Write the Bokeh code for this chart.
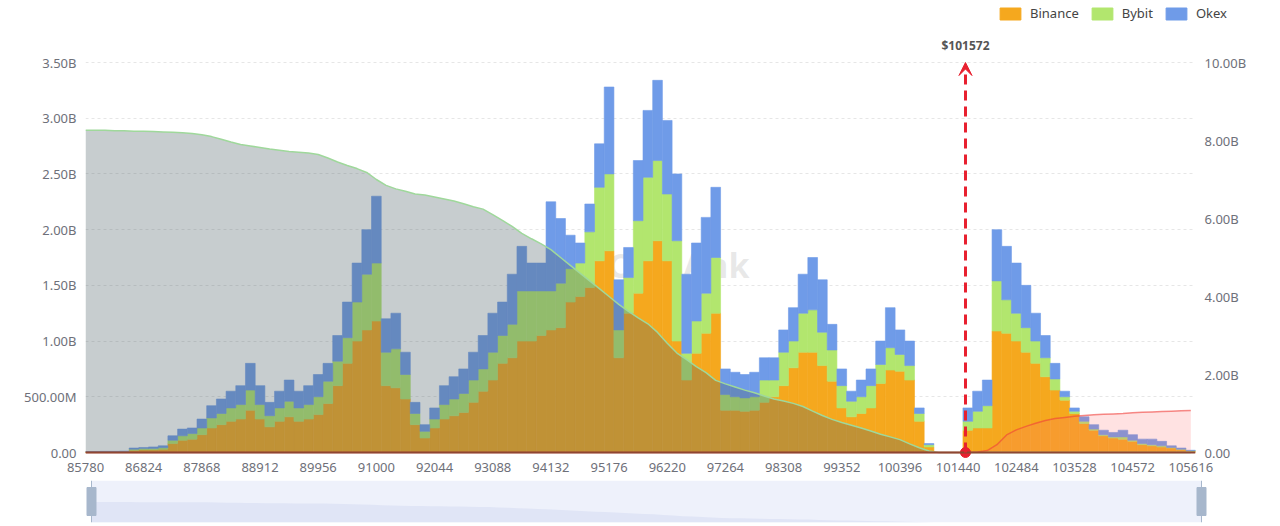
from bokeh.plotting import figure
from bokeh.models import (Range1d, LinearAxis, FixedTicker, Legend, LegendItem, Label,
                          Arrow, VeeHead, ColumnDataSource, Span)
from bokeh.layouts import column
from bokeh.embed import file_html
from bokeh.resources import INLINE

# ---------------- data ----------------
bin_width = 174
price_bins = list(range(85780, 105617, bin_width))   # 115 price levels

# liquidation leverage per price level, in billions (left axis)
binance = [
    .004, .004, .005, .005, .006, .02, .025, .025, .03, .08,
    .11, .12, .16, .22, .25, .28, .3, .38, .3, .23,
    .28, .32, .28, .3, .34, .44, .6, .8, 1.0, 1.1,
    1.18, .6, .58, .48, .25, .13, .22, .3, .33, .36,
    .45, .55, .65, .8, .85, 1.0, 1.0, 1.05, 1.1, 1.12,
    1.35, 1.4, 1.48, 1.72, 1.81, .85, 1.25, 1.43, 1.72, 1.9,
    1.72, 1.0, .65, .89, 1.07, 1.25, .38, .38, .37, .38,
    .45, .5, .6, .76, .9, .9, .78, .64, .4, .32,
    .35, .4, .62, .74, .73, .65, .28, .05, 0, 0,
    0, .2, .22, .22, 1.09, 1.07, 1.0, .9, .8, .68,
    .56, .47, .35, .26, .2, .15, .13, .12, .1, .07,
    .06, .05, .04, .025, .012,
]
bybit = [
    .002, .002, .002, .002, .002, .01, .01, .012, .013, .03,
    .04, .05, .06, .09, .1, .12, .13, .18, .13, .1,
    .12, .14, .12, .13, .16, .2, .22, .23, .35, .5,
    .52, .3, .35, .22, .1, .06, .08, .13, .15, .17,
    .2, .2, .25, .25, .3, .45, .45, .4, .35, .4,
    .3, .3, .5, .66, .69, .25, .32, .65, .75, .72,
    .6, .9, .24, .29, .36, .5, .14, .12, .12, .12,
    .2, .15, .3, .24, .35, .38, .3, .28, .2, .14,
    .15, .2, .17, .2, .15, .13, .07, .02, 0, 0,
    0, .08, .15, .2, .45, .3, .25, .22, .2, .17,
    .1, .03, .02, .02, .01, .01, .01, .02, .01, .01,
    .01, .01, .005, .005, .003,
]
okex = [
    .002, .002, .003, .003, .004, .01, .01, .013, .017, .04,
    .06, .05, .08, .11, .13, .15, .17, .24, .17, .12,
    .15, .19, .15, .17, .2, .16, .23, .32, .35, .4,
    .6, .3, .32, .2, .1, .06, .1, .17, .2, .22,
    .25, .3, .35, .3, .45, .4, .25, .25, .8, .58,
    .3, .18, .25, .39, .78, .45, .27, .54, .6, .72,
    .66, .6, .71, .7, .68, .63, .23, .22, .21, .22,
    .2, .2, .2, .3, .35, .47, .47, .23, .15, .09,
    .15, .15, .21, .36, .22, .22, .05, .01, 0, 0,
    0, .12, .18, .23, .46, .48, .45, .38, .25, .2,
    .14, .05, .03, .04, .04, .04, .04, .06, .05, .04,
    .05, .04, .015, .01, .005,
]
# cumulative liquidation, in billions (right axis)
short_cum = [
    8.26, 8.26, 8.26, 8.25, 8.25, 8.24, 8.24, 8.23, 8.22, 8.21,
    8.2, 8.18, 8.15, 8.1, 8.03, 7.96, 7.9, 7.86, 7.82, 7.78,
    7.75, 7.72, 7.7, 7.68, 7.64, 7.55, 7.45, 7.36, 7.28, 7.18,
    7.0, 6.85, 6.76, 6.7, 6.63, 6.6, 6.55, 6.5, 6.45, 6.38,
    6.3, 6.24, 6.1, 5.95, 5.8, 5.62, 5.48, 5.35, 5.2, 5.0,
    4.8, 4.6, 4.4, 4.2, 4.0, 3.8, 3.62, 3.45, 3.3, 3.08,
    2.8, 2.55, 2.38, 2.2, 2.05, 1.85, 1.76, 1.68, 1.6, 1.53,
    1.45, 1.37, 1.32, 1.26, 1.18, 1.06, 0.95, 0.85, 0.77, 0.7,
    0.63, 0.55, 0.47, 0.4, 0.33, 0.22, 0.12, 0.04, 0, 0,
    0, 0, 0, 0, 0, 0, 0, 0, 0, 0,
    0, 0, 0, 0, 0, 0, 0, 0, 0, 0,
    0, 0, 0, 0, 0,
]
long_cum = [
    0, 0, 0, 0, 0, 0, 0, 0, 0, 0,
    0, 0, 0, 0, 0, 0, 0, 0, 0, 0,
    0, 0, 0, 0, 0, 0, 0, 0, 0, 0,
    0, 0, 0, 0, 0, 0, 0, 0, 0, 0,
    0, 0, 0, 0, 0, 0, 0, 0, 0, 0,
    0, 0, 0, 0, 0, 0, 0, 0, 0, 0,
    0, 0, 0, 0, 0, 0, 0, 0, 0, 0,
    0, 0, 0, 0, 0, 0, 0, 0, 0, 0,
    0, 0, 0, 0, 0, 0, 0, 0, 0, 0,
    0, 0, 0.01, 0.05, 0.2, 0.45, 0.58, 0.67, 0.75, 0.82,
    0.87, 0.9, 0.93, 0.95, 0.97, 0.98, 0.99, 1.0, 1.02, 1.03,
    1.04, 1.05, 1.06, 1.07, 1.08,
]
x_ticks = [85780, 86824, 87868, 88912, 89956, 91000, 92044, 93088, 94132, 95176,
           96220, 97264, 98308, 99352, 100396, 101440, 102484, 103528, 104572, 105616]
left_ticks = [0, 0.5, 1.0, 1.5, 2.0, 2.5, 3.0, 3.5]
left_labels = ["0.00", "500.00M", "1.00B", "1.50B", "2.00B", "2.50B", "3.00B", "3.50B"]
right_ticks = [0, 2, 4, 6, 8, 10]
right_labels = ["0.00", "2.00B", "4.00B", "6.00B", "8.00B", "10.00B"]
current_price = 101572
series_names = ["Binance", "Bybit", "Okex"]

for s in (binance, bybit, okex, short_cum, long_cum):
    assert len(s) == len(price_bins), len(s)

# ---------------- style ----------------
FONT = "Noto Sans"
COLORS = ["#F5A81E", "#B2E66E", "#6F9BE8"]
RED = "#E8202F"
LABEL_C = "#6E7079"

x_start, x_end = 85780, 105700
left_top, right_top = 3.5, 10
# pixel layout of the value area: 390 px from 0 to top tick, headroom above, 6 px below zero
core_px, head_px, below_px = 390, 36, 6
left_range = Range1d(-left_top * below_px / core_px, left_top * (core_px + head_px) / core_px)
right_range = Range1d(-right_top * below_px / core_px, right_top * (core_px + head_px) / core_px)

src = ColumnDataSource(dict(price=price_bins, binance=binance, bybit=bybit, okex=okex,
                            short_cum=short_cum, long_cum=long_cum))

# ---------------- legend strip (top) ----------------
top = figure(frame_width=1280, frame_height=26, x_range=Range1d(0, 1), y_range=Range1d(0, 1),
             min_border=0, x_axis_type=None, y_axis_type=None,
             output_backend="svg", toolbar_location=None)
top.outline_line_color = None
top.grid.grid_line_color = None
# zero-size proxy glyphs that only carry the legend swatch styles
legend_renderers = [top.vbar(x=[0], top=[0], bottom=[0], width=0, fill_color=c, line_color=c)
                    for c in COLORS]
legend = Legend(items=[LegendItem(label=n, renderers=[r]) for n, r in zip(series_names, legend_renderers)],
                orientation="horizontal", location=(997, 4), padding=0, margin=0,
                spacing=10, glyph_width=26, glyph_height=15, label_standoff=7,
                label_height=15, border_line_color=None, background_fill_alpha=0,
                label_text_font=FONT, label_text_font_size="13px", label_text_color="#444444")
top.add_layout(legend)

# ---------------- main chart ----------------
p = figure(frame_width=1110, frame_height=core_px + head_px + below_px,
           x_range=Range1d(x_start, x_end), y_range=left_range,
           min_border_left=85, min_border_right=85, min_border_top=0, min_border_bottom=20,
           output_backend="svg", toolbar_location=None)
p.outline_line_color = None
p.background_fill_color = "white"
p.xgrid.grid_line_color = None
p.ygrid.grid_line_color = "#E6E6E6"
p.ygrid.grid_line_dash = "3 3"
p.ygrid.ticker = FixedTicker(ticks=left_ticks)

p.extra_y_ranges = {"cum": right_range}

# stacked bars
bars = p.vbar_stack(["binance", "bybit", "okex"], x="price", width=bin_width, source=src,
                    fill_color=COLORS, line_color=COLORS, line_width=0.6)

# cumulative areas (right axis)
p.varea(x="price", y1=0, y2="short_cum", source=src, y_range_name="cum",
        fill_color=(80, 100, 105), fill_alpha=0.32)
p.varea(x="price", y1=0, y2="long_cum", source=src, y_range_name="cum",
        fill_color="#FF7070", fill_alpha=0.2)
p.line(x="price", y="short_cum", source=src, y_range_name="cum",
       line_color="#9FD89B", line_width=1.5)
p.line(x="price", y="long_cum", source=src, y_range_name="cum",
       line_color="#F0403A", line_alpha=0.6, line_width=1.5)

# baseline
p.add_layout(Span(location=0, dimension="width", line_color="#8E4632", line_width=2))

# current price marker
p.add_layout(Arrow(end=VeeHead(size=13, fill_color=RED, line_color=RED),
                   x_start=current_price, y_start=0, x_end=current_price, y_end=left_top,
                   line_color=RED, line_width=3, line_dash="10 6"))
p.scatter([current_price], [0], size=10, fill_color=RED, line_color=RED)
p.add_layout(Label(x=current_price, y=left_top, y_offset=17, text=f"${current_price}",
                   text_align="center", text_baseline="middle", text_font=FONT,
                   text_font_size="12px", text_font_style="bold", text_color="#555555"))

# watermark
p.add_layout(Label(x=96422, y=1.68, text="CoinAnk", text_align="center",
                   text_baseline="middle", text_font=FONT, text_font_size="34px",
                   text_font_style="bold", text_color="#999999", text_alpha=0.22,
                   level="underlay"))

# axes
p.xaxis.ticker = FixedTicker(ticks=x_ticks)
p.xaxis.major_label_overrides = {t: str(t) for t in x_ticks}
p.xaxis.axis_line_color = None
p.xaxis.major_tick_line_color = None
p.xaxis.minor_tick_line_color = None
p.xaxis.major_tick_out = 0
p.xaxis.major_label_standoff = 4
p.xaxis.major_label_text_font = FONT
p.xaxis.major_label_text_font_size = "13px"
p.xaxis.major_label_text_color = LABEL_C

yl = p.yaxis[0]
yl.ticker = FixedTicker(ticks=left_ticks)
yl.major_label_overrides = dict(zip(left_ticks, left_labels))
yr = LinearAxis(y_range_name="cum", ticker=FixedTicker(ticks=right_ticks),
                major_label_overrides=dict(zip(right_ticks, right_labels)))
p.add_layout(yr, "right")
for ax in (yl, yr):
    ax.axis_line_color = None
    ax.major_tick_line_color = None
    ax.minor_tick_line_color = None
    ax.major_tick_out = 0
    ax.major_tick_in = 0
    ax.major_label_standoff = 9
    ax.major_label_text_font = FONT
    ax.major_label_text_font_size = "13px"
    ax.major_label_text_color = LABEL_C

# ---------------- data-zoom slider strip ----------------
pad = 6 * (x_end - x_start) / 1110
p2 = figure(frame_width=1122, frame_height=42, x_range=Range1d(x_start - pad, x_end + pad),
            y_range=Range1d(0, 17), min_border_left=79, min_border_right=79,
            min_border_top=2, min_border_bottom=4, x_axis_type=None, y_axis_type=None,
            output_backend="svg", toolbar_location=None)
p2.outline_line_color = None
p2.grid.grid_line_color = None
p2.quad(left=[x_start], right=[x_end], bottom=[0], top=[17], fill_color="#EEF1FB", line_color=None)
p2.varea(x="price", y1=0, y2="short_cum", source=src, fill_color="#E0E5F6")
p2.segment(x0=[x_start, x_end], y0=[0, 0], x1=[x_start, x_end], y1=[17, 17],
           line_color="#A7B7CC", line_width=1)
p2.rect(x=[x_start, x_end], y=[8.5, 8.5], width=9, height=28, width_units="screen",
        height_units="screen", fill_color="#A7B7CC", line_color="#A7B7CC")

layout = column(top, p, p2)
open("out.html", "w").write(file_html(layout, INLINE))
